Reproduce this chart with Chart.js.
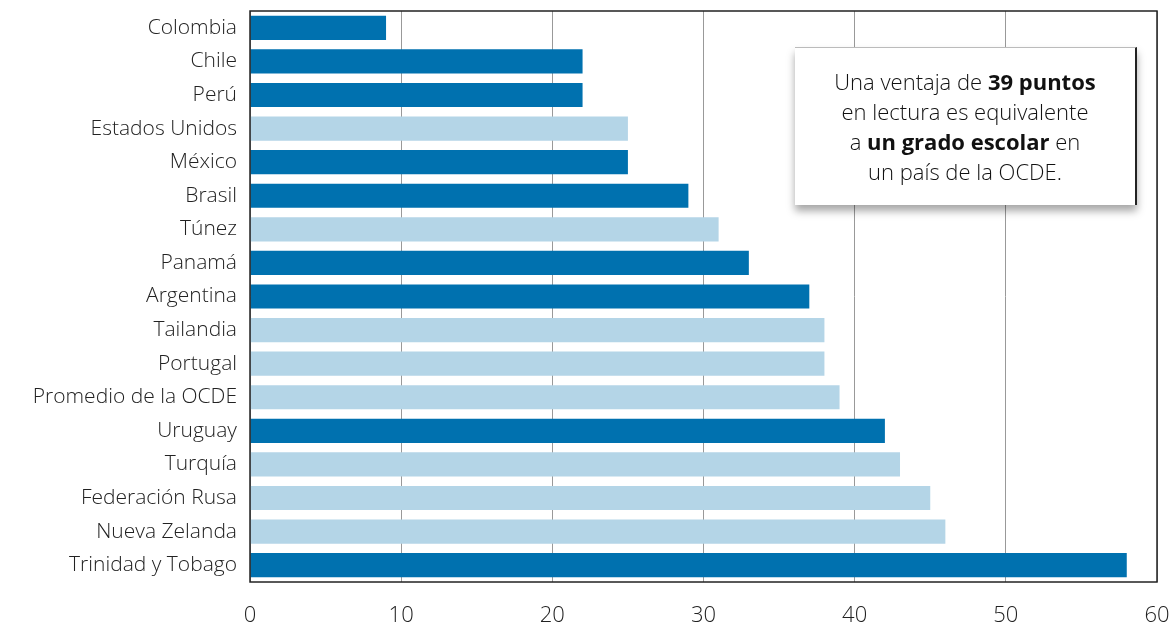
<!DOCTYPE html>
<html>
<head>
<meta charset="utf-8">
<script src="https://cdn.jsdelivr.net/npm/chart.js@4"></script>
<style>
    html, body { margin: 0; padding: 0; background: #fff; overflow: hidden; }
    #wrap { position: relative; width: 1172px; height: 627px; }
    #note {
        position: absolute;
        left: 795px; top: 47px; width: 342px; height: 158px;
        box-sizing: border-box;
        background: #fff;
        border-top: 1px solid #bbb;
        border-right: 2px solid #222;
        box-shadow: 0 6px 8px rgba(0,0,0,0.35);
        font-family: "Open Sans", sans-serif;
        font-weight: 300;
        font-size: 22px;
        line-height: 30px;
        color: #111;
        text-align: center;
        padding-top: 18px;
    }
    #note b { font-weight: 700; }
</style>
</head>
<body>
<div id="wrap">
    <canvas id="chart" width="1172" height="627"></canvas>
    <div id="note">Una ventaja de <b>39 puntos</b><br>en lectura es equivalente<br>a <b>un grado escolar</b> en<br>un país de la OCDE.</div>
</div>
<script>
'use strict';

// ── Data ────────────────────────────────────────
const countries = [
    'Colombia', 'Chile', 'Perú', 'Estados Unidos', 'México', 'Brasil', 'Túnez',
    'Panamá', 'Argentina', 'Tailandia', 'Portugal', 'Promedio de la OCDE',
    'Uruguay', 'Turquía', 'Federación Rusa', 'Nueva Zelanda', 'Trinidad y Tobago'
];
const points = [9, 22, 22, 25, 25, 29, 31, 33, 37, 38, 38, 39, 42, 43, 45, 46, 58];
// true = Latin America & Caribbean (dark blue)
const isLatam = [true, true, true, false, true, true, false, true, true, false, false, false, true, false, false, false, true];
const xTicks = [0, 10, 20, 30, 40, 50, 60];

const darkBlue = '#0071AF';
const lightBlue = '#B4D5E7';
const font = "'Open Sans', sans-serif";

// frame around the plot area
const framePlugin = {
    id: 'frame',
    afterDraw(chart) {
        const { ctx, chartArea: a } = chart;
        ctx.save();
        ctx.strokeStyle = '#222';
        ctx.lineWidth = 1.5;
        ctx.strokeRect(a.left, a.top, a.right - a.left, a.bottom - a.top);
        ctx.restore();
    }
};

new Chart(document.getElementById('chart'), {
    type: 'bar',
    data: {
        labels: countries,
        datasets: [{
            data: points,
            backgroundColor: isLatam.map(d => d ? darkBlue : lightBlue),
            barPercentage: 0.72,
            categoryPercentage: 1,
        }],
    },
    options: {
        indexAxis: 'y',
        responsive: false,
        animation: false,
        layout: { padding: { top: 11, right: 15, bottom: 0, left: 0 } },
        plugins: {
            legend: { display: false },
            tooltip: { enabled: false },
        },
        scales: {
            x: {
                min: 0,
                max: 60,
                afterBuildTicks: (axis) => { axis.ticks = xTicks.map(v => ({ value: v })); },
                grid: { color: '#999', lineWidth: 1, drawTicks: false },
                border: { display: false },
                ticks: { color: '#222', padding: 21, font: { family: font, size: 22, weight: '300' } },
                afterFit: (axis) => {
                    axis.height = 45;
                    axis.paddingLeft = 0;
                    axis.paddingRight = 0;
                },
            },
            y: {
                grid: { display: false, drawTicks: false },
                border: { display: false },
                ticks: { color: '#222', padding: 13, font: { family: font, size: 21, weight: '300' } },
                afterFit: (axis) => {
                    axis.width = 250;
                    axis.paddingTop = 0;
                    axis.paddingBottom = 0;
                },
            },
        },
    },
    plugins: [framePlugin],
});
</script>
</body>
</html>
